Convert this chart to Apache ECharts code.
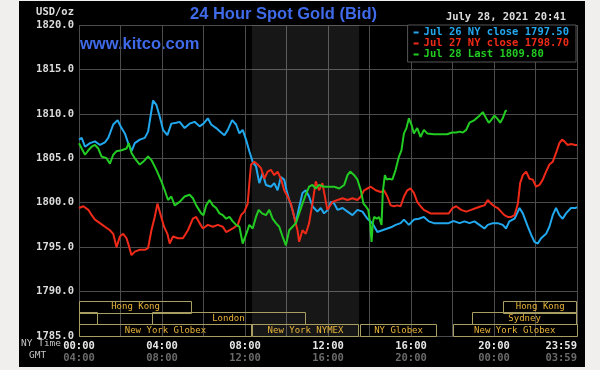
<!DOCTYPE html>
<html><head><meta charset="utf-8">
<script src="https://cdn.jsdelivr.net/npm/echarts@6/dist/echarts.min.js"></script>
<style>
html,body{margin:0;padding:0;background:#f0efed;width:600px;height:370px;overflow:hidden}
#c{position:absolute;left:19px;top:1px;width:566px;height:366px;background:#000}
</style></head><body><div id="c"></div>
<script>
// time in NY hours (0..24), value USD/oz
const jul26 = [[0,1807.1],[0.13,1807.3],[0.29,1806.3],[0.53,1806.7],[0.77,1806.9],[1.01,1806.5],[1.25,1806.8],[1.41,1807.3],[1.65,1808.8],[1.86,1809.3],[2.05,1808.4],[2.21,1807.8],[2.37,1806.7],[2.53,1805.8],[2.69,1806.7],[2.93,1807.1],[3.17,1807.3],[3.33,1808.0],[3.46,1809.9],[3.57,1811.5],[3.73,1811.0],[3.89,1809.7],[4.05,1808.2],[4.26,1807.6],[4.45,1808.9],[4.69,1809.0],[4.85,1809.1],[5.09,1808.4],[5.33,1808.9],[5.57,1809.1],[5.81,1808.6],[6.0,1808.9],[6.21,1809.5],[6.37,1808.8],[6.61,1808.4],[6.85,1807.9],[7.01,1807.6],[7.17,1808.2],[7.38,1809.3],[7.57,1808.8],[7.73,1807.8],[7.89,1808.2],[8.05,1807.1],[8.21,1805.8],[8.37,1804.6],[8.53,1804.1],[8.69,1802.2],[8.85,1803.3],[9.01,1802.0],[9.25,1801.8],[9.41,1802.2],[9.57,1801.4],[9.73,1802.9],[9.89,1802.6],[10.0,1801.4],[10.13,1800.3],[10.29,1799.2],[10.45,1797.7],[10.58,1799.2],[10.77,1801.1],[10.93,1801.4],[11.09,1800.7],[11.25,1799.6],[11.49,1799.0],[11.65,1799.4],[11.81,1798.8],[12.0,1799.2],[12.14,1800.1],[12.30,1799.9],[12.46,1799.2],[12.70,1799.4],[12.94,1799.0],[13.18,1798.6],[13.42,1799.2],[13.66,1799.0],[13.90,1798.2],[14.14,1797.7],[14.38,1796.7],[14.62,1796.9],[14.86,1797.1],[15.10,1797.3],[15.26,1797.5],[15.50,1797.7],[15.66,1798.1],[15.90,1797.5],[16.14,1798.1],[16.38,1798.2],[16.62,1798.4],[16.86,1797.9],[17.10,1797.7],[17.34,1797.7],[17.58,1797.7],[17.82,1797.7],[18.0,1797.9],[18.10,1797.9],[18.34,1797.7],[18.58,1797.9],[18.82,1797.7],[19.06,1797.9],[19.30,1797.5],[19.54,1797.1],[19.70,1797.5],[19.94,1797.7],[20.18,1797.7],[20.42,1797.5],[20.58,1797.1],[20.74,1797.9],[20.99,1798.2],[21.23,1799.4],[21.39,1798.8],[21.63,1797.3],[21.79,1796.4],[21.95,1795.6],[22.11,1795.4],[22.27,1796.0],[22.51,1796.5],[22.67,1797.3],[22.83,1798.6],[22.99,1799.4],[23.15,1798.6],[23.31,1798.2],[23.47,1798.8],[23.71,1799.4],[23.92,1799.4],[24.0,1799.5]];
const jul27 = [[0,1799.4],[0.21,1799.6],[0.45,1799.2],[0.61,1798.6],[0.77,1798.1],[1.01,1797.7],[1.25,1797.3],[1.49,1796.9],[1.65,1796.5],[1.81,1795.0],[1.97,1796.2],[2.13,1796.5],[2.29,1796.0],[2.37,1795.4],[2.53,1794.1],[2.69,1794.5],[2.93,1794.7],[3.17,1794.7],[3.33,1794.9],[3.49,1796.9],[3.65,1798.4],[3.78,1799.9],[3.94,1798.6],[4.10,1797.3],[4.26,1796.5],[4.37,1795.4],[4.53,1796.2],[4.77,1796.0],[5.01,1796.0],[5.25,1796.9],[5.49,1798.2],[5.65,1798.4],[5.81,1797.7],[5.97,1797.1],[6.21,1797.5],[6.45,1797.3],[6.69,1797.5],[6.93,1797.3],[7.09,1796.7],[7.25,1796.9],[7.41,1797.1],[7.65,1797.5],[7.81,1798.6],[7.97,1799.0],[8.13,1799.9],[8.21,1802.2],[8.29,1804.3],[8.45,1804.6],[8.61,1804.3],[8.77,1803.9],[8.93,1802.7],[9.09,1803.5],[9.25,1803.7],[9.41,1803.1],[9.57,1803.5],[9.73,1802.7],[9.89,1801.4],[10.05,1800.7],[10.21,1799.9],[10.37,1798.4],[10.53,1796.9],[10.61,1795.6],[10.77,1796.9],[10.93,1796.5],[11.09,1797.7],[11.25,1799.9],[11.41,1802.4],[11.57,1801.4],[11.73,1802.2],[11.97,1799.2],[12.22,1800.1],[12.46,1800.3],[12.70,1800.5],[12.94,1800.3],[13.18,1800.5],[13.42,1800.3],[13.58,1800.7],[13.74,1801.4],[13.90,1801.6],[14.06,1801.8],[14.30,1801.4],[14.54,1801.2],[14.70,1801.4],[14.86,1800.7],[15.02,1799.7],[15.18,1799.6],[15.34,1799.7],[15.50,1799.6],[15.66,1800.7],[15.82,1801.4],[15.98,1801.6],[16.14,1801.1],[16.30,1800.1],[16.46,1799.6],[16.62,1799.2],[16.78,1799.0],[16.94,1798.8],[17.26,1798.8],[17.58,1798.8],[17.82,1798.8],[18.0,1799.4],[18.18,1799.6],[18.42,1799.2],[18.66,1799.0],[18.90,1799.2],[19.14,1799.4],[19.38,1799.6],[19.54,1799.7],[19.70,1800.3],[19.86,1799.9],[20.02,1799.6],[20.18,1799.4],[20.34,1799.0],[20.50,1798.6],[20.66,1798.4],[20.83,1798.4],[20.99,1798.6],[21.15,1799.9],[21.26,1802.2],[21.39,1803.1],[21.55,1803.5],[21.71,1802.7],[21.87,1802.6],[22.03,1801.8],[22.19,1802.0],[22.35,1802.6],[22.51,1803.5],[22.67,1804.3],[22.83,1804.6],[22.99,1805.6],[23.15,1806.7],[23.28,1807.1],[23.39,1806.9],[23.55,1806.5],[23.71,1806.6],[23.92,1806.5],[24.0,1806.5]];
const jul28 = [[0,1806.7],[0.13,1806.1],[0.29,1805.4],[0.45,1805.9],[0.61,1806.3],[0.77,1806.5],[0.93,1806.1],[1.09,1805.2],[1.33,1805.0],[1.49,1804.4],[1.65,1805.4],[1.81,1805.8],[2.05,1805.9],[2.29,1806.1],[2.40,1806.7],[2.53,1805.6],[2.69,1805.0],[2.93,1804.3],[3.09,1804.6],[3.33,1805.2],[3.49,1804.8],[3.73,1803.7],[3.97,1802.4],[4.13,1801.4],[4.29,1800.3],[4.45,1800.7],[4.61,1799.7],[4.85,1800.1],[5.09,1800.7],[5.33,1800.9],[5.49,1800.5],[5.65,1799.7],[5.89,1798.8],[6.0,1798.6],[6.13,1799.7],[6.29,1800.3],[6.45,1799.7],[6.61,1799.4],[6.77,1798.8],[6.93,1798.6],[7.09,1798.2],[7.25,1798.4],[7.41,1797.9],[7.57,1797.5],[7.73,1797.3],[7.89,1795.4],[8.05,1796.4],[8.21,1797.5],[8.37,1797.1],[8.53,1798.4],[8.66,1799.2],[8.82,1798.8],[9.01,1798.6],[9.17,1799.2],[9.33,1798.2],[9.49,1797.7],[9.65,1797.3],[9.81,1796.2],[9.97,1795.2],[10.13,1796.9],[10.29,1797.3],[10.45,1797.7],[10.61,1798.8],[10.77,1799.9],[10.93,1800.9],[11.09,1801.8],[11.25,1802.0],[11.41,1801.6],[11.57,1802.0],[11.81,1801.8],[12.06,1801.8],[12.30,1801.8],[12.54,1801.6],[12.78,1802.0],[12.94,1803.1],[13.07,1803.5],[13.26,1803.1],[13.42,1802.6],[13.58,1801.4],[13.71,1799.9],[13.82,1799.6],[13.94,1799.2],[14.03,1797.7],[14.10,1795.6],[14.16,1797.7],[14.22,1798.4],[14.35,1798.2],[14.46,1798.4],[14.58,1797.5],[14.64,1801.2],[14.74,1803.1],[14.83,1802.6],[14.94,1802.7],[15.10,1802.6],[15.26,1803.7],[15.42,1805.2],[15.54,1805.9],[15.66,1807.8],[15.78,1808.4],[15.90,1809.5],[16.02,1808.8],[16.14,1807.8],[16.30,1808.4],[16.46,1807.4],[16.62,1808.2],[16.78,1807.8],[17.10,1807.7],[17.42,1807.7],[17.74,1807.7],[17.98,1807.9],[18.18,1807.9],[18.34,1808.0],[18.50,1807.9],[18.66,1808.2],[18.82,1809.0],[19.06,1809.3],[19.30,1809.8],[19.46,1810.2],[19.62,1809.5],[19.75,1809.0],[19.86,1809.3],[20.02,1809.8],[20.18,1809.4],[20.30,1809.0],[20.42,1809.5],[20.55,1810.3],[20.62,1810.4]];
const seriesNames = ['Jul 26 NY close 1797.50','Jul 27 NY close 1798.70','Jul 28 Last 1809.80'];
const seriesColors = ['#22a8ee','#f02a18','#22cc22'];
const nyTimeLabels = {0:'00:00',4:'04:00',8:'08:00',12:'12:00',16:'16:00',20:'20:00',24:'23:59'};
const gmtLabels = {0:'04:00',4:'08:00',8:'12:00',12:'16:00',16:'20:00',20:'00:00',24:'03:59'};
const sessionNames = ['Hong Kong','','London','New York Globex','New York NYMEX','NY Globex','New York Globex','Sydney','Hong Kong'];
const sessionStart = [0,0,3.5,0,8.33,13.55,18.0,18.95,20.45];
const sessionEnd   = [5.45,0.93,10.9,8.33,13.5,17.25,24,24,24];
const sessionRow   = [0,1,1,2,2,2,2,1,0];
const nymexHours = [8.33,13.5];
const titleText = '24 Hour Spot Gold (Bid)';
const dateText = 'July 28, 2021 20:41';

const mono = '"DejaVu Sans Mono", "Liberation Mono", monospace';
const chart = echarts.init(document.getElementById('c'), null, {renderer:'canvas'});
const sessionData = sessionStart.map((s,i)=>[s, sessionEnd[i], sessionRow[i], sessionNames[i]]);
const ROW_H = 11.8;

const lines = [jul26, jul27, jul28].map((d,i)=>({
  type:'line', name: seriesNames[i], data: d, showSymbol:false, symbol:'none',
  lineStyle:{width:2, color: seriesColors[i]}, itemStyle:{color: seriesColors[i]},
  z: 3, animation:false,
  markArea: i===0 ? {silent:true, itemStyle:{color:'rgba(255,255,255,0.09)'}, data:[[{xAxis:nymexHours[0]},{xAxis:nymexHours[1]}]]} : undefined
}));

chart.setOption({
  animation:false,
  backgroundColor:'#000',
  grid:{left:60, top:24, width:498, height:311, containLabel:false},
  legend:{
    right:9, top:24, orient:'vertical', backgroundColor:'#000', borderColor:'#555', borderWidth:1,
    padding:[2,7,2,6], itemGap:0, itemWidth:5, itemHeight:2, icon:'rect', selectedMode:false,
    textStyle:{fontFamily:mono, fontWeight:'bold', fontSize:10.5, lineHeight:11},
    data: seriesNames.map((n,i)=>({name:n, textStyle:{color:seriesColors[i]}})), z:10
  },
  xAxis:[{
    type:'value', min:0, max:24, interval:2,
    axisLine:{show:false}, axisTick:{show:false},
    splitLine:{show:true, lineStyle:{color:'#4c4c4c', width:1}},
    axisLabel:{margin:5, color:'#e6e6e6', fontFamily:mono, fontWeight:'bold', fontSize:10.5,
      formatter:v=> nyTimeLabels[v] !== undefined ? nyTimeLabels[v] : '', showMaxLabel:true, showMinLabel:true, alignMaxLabel:'right'}
  },{
    type:'value', min:0, max:24, interval:2, position:'bottom', offset:12,
    axisLine:{show:false}, axisTick:{show:false}, splitLine:{show:false},
    axisLabel:{margin:5, color:'#6a6a6a', fontFamily:mono, fontWeight:'bold', fontSize:10.5,
      formatter:v=> gmtLabels[v] !== undefined ? gmtLabels[v] : '', showMaxLabel:true, showMinLabel:true, alignMaxLabel:'right'}
  }],
  yAxis:{
    type:'value', min:1785, max:1820, interval:5,
    axisLine:{show:false}, axisTick:{show:false},
    splitLine:{show:true, lineStyle:{color:'#4c4c4c', width:1}},
    axisLabel:{margin:5, color:'#dcdcdc', fontFamily:mono, fontWeight:'bold', fontSize:10.5, formatter:v=>v.toFixed(1)}
  },
  graphic:[
    {type:'text', left:171, top:5, style:{text:titleText, fill:'#3f6ae8', font:'bold 16.5px "Liberation Sans", Arial, sans-serif'}},
    {type:'text', left:61, top:35, style:{text:'www.kitco.com', fill:'#3f6ae8', font:'bold 16.5px "Liberation Sans", Arial, sans-serif'}},
    {type:'text', right:511, top:6, style:{text:'USD/oz', fill:'#dcdcdc', font:'bold 10.5px '+mono}},
    {type:'text', right:19, top:11, style:{text:dateText, fill:'#dcdcdc', font:'bold 10.5px '+mono}},
    {type:'text', left:2, top:338, style:{text:'NY Time', fill:'#c4c4c4', font:'9.5px '+mono}},
    {type:'text', left:10, top:350, style:{text:'GMT', fill:'#c4c4c4', font:'9.5px '+mono}}
  ],
  series:[...lines, {
    type:'custom', data: sessionData, encode:{x:[0,1], y:2}, z:4, silent:true,
    renderItem:(params, api)=>{
      const x0 = api.coord([api.value(0), 1785])[0];
      const x1 = api.coord([api.value(1), 1785])[0];
      const yb = api.coord([0, 1785])[1];
      const row = api.value(2);
      const top = yb - (3-row)*ROW_H;
      return {type:'group', children:[
        {type:'rect', shape:{x:Math.round(x0)+0.5, y:Math.round(top)+0.5, width:Math.round(x1-x0)-1, height:Math.round(ROW_H)},
          style:{fill:null, stroke:'#a89e62', lineWidth:1}},
        {type:'text', style:{text: api.value(3), x:(x0+x1)/2, y: top+ROW_H/2+0.5, fill:'#e8b43a', font:'9px '+mono, align:'center', verticalAlign:'middle'}}
      ]};
    }
  }]
});
</script></body></html>
